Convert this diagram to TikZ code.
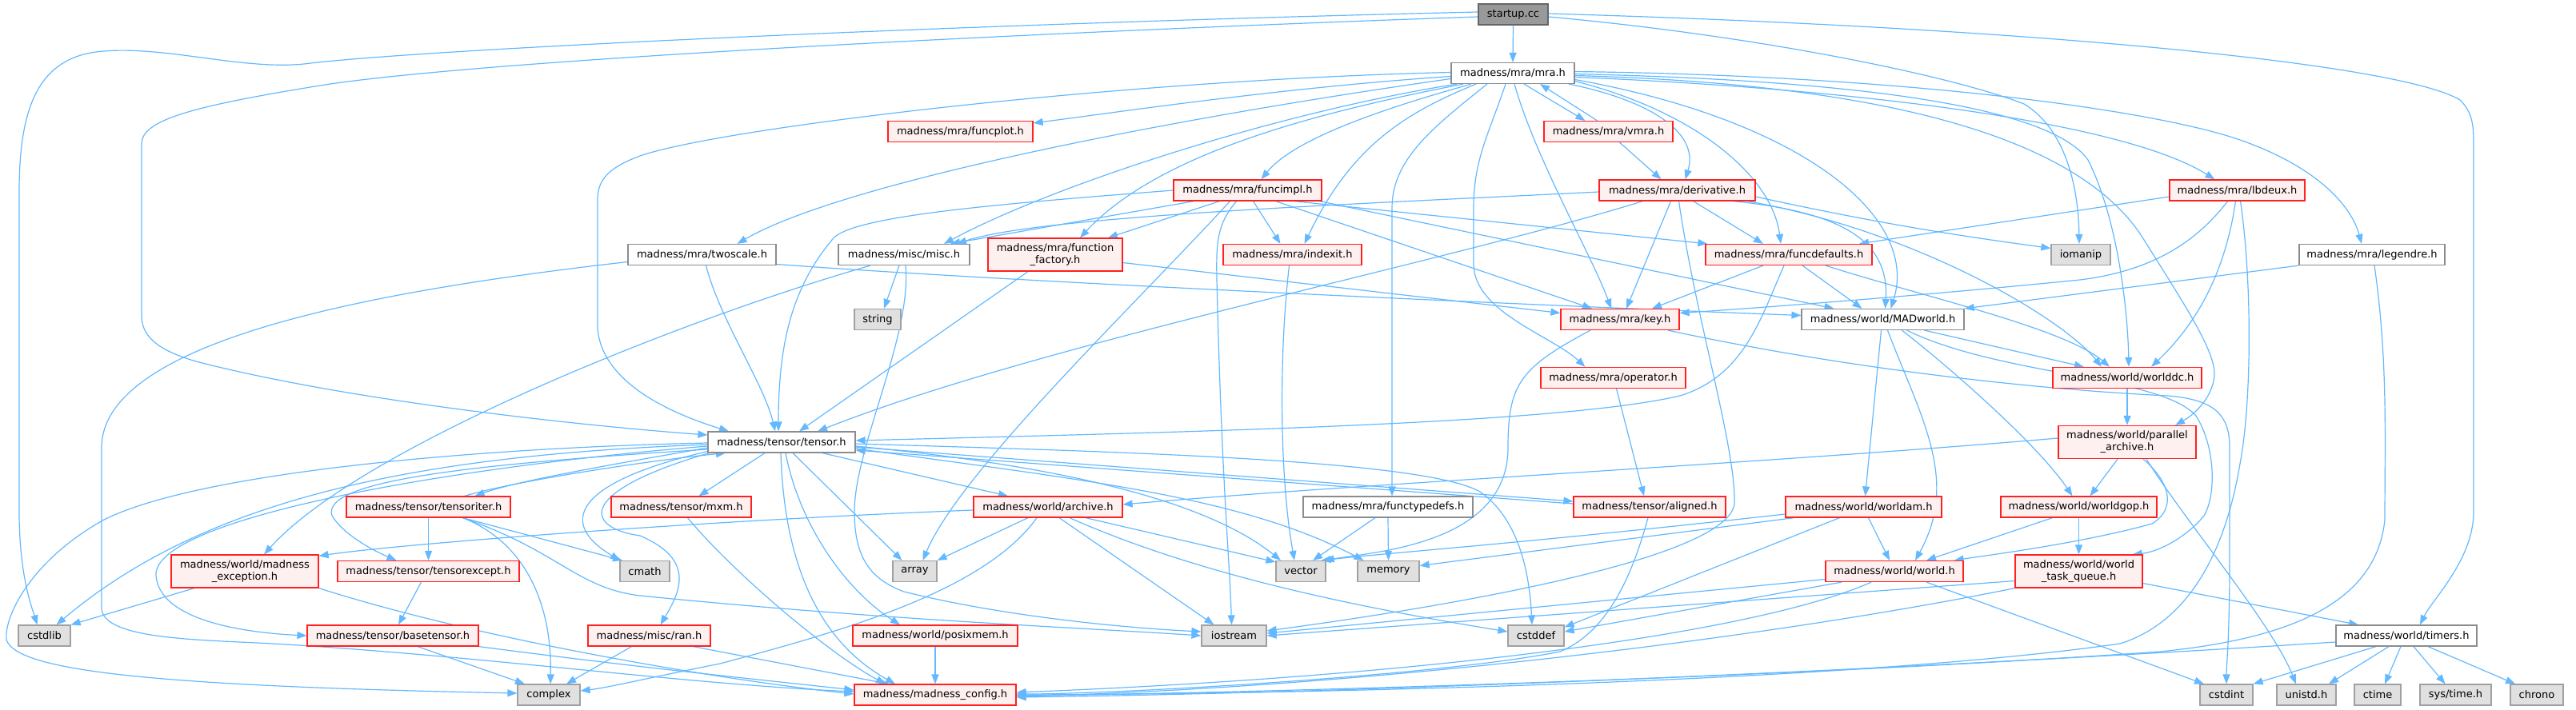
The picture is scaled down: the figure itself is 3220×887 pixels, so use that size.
\documentclass[tikz,border=0pt]{standalone}
\usepackage{fontspec}
\setmainfont{DejaVu Sans}
\usetikzlibrary{arrows.meta,calc}
\pgfdeclarelayer{bg}
\pgfsetlayers{bg,main}
\definecolor{ecol}{HTML}{63B8FF}
\definecolor{wbord}{HTML}{8C8C8C}
\definecolor{rfill}{HTML}{FFF0F0}
\definecolor{rbord}{HTML}{FF2020}
\definecolor{gfill}{HTML}{E0E0E0}
\definecolor{gbord}{HTML}{A0A0A0}
\definecolor{sfill}{HTML}{999999}
\definecolor{sbord}{HTML}{666666}
\begin{document}
\begin{tikzpicture}[x=1pt,y=-1pt,font=\fontsize{13}{15}\selectfont,
  box/.style={line width=1.2pt,inner sep=0pt,minimum height=26pt,align=center},
  wbox/.style={box,draw=wbord,fill=white},
  rbox/.style={box,draw=rbord,fill=rfill},
  gbox/.style={box,draw=gbord,fill=gfill},
  sbox/.style={box,draw=sbord,fill=sfill},
  lnk/.style={draw=ecol,line width=1.2pt,-{Triangle[length=12pt,width=9pt]}}]
\useasboundingbox (0,0) rectangle (3220,887);
% ---------------- nodes
\node[sbox,minimum width=87] (startup) at (1891.5,18) {startup.cc};
\node[wbox,minimum width=154] (mra) at (1891,91.5) {madness/mra/mra.h};
\node[rbox,minimum width=181] (funcplot) at (1200.5,164.5) {madness/mra/funcplot.h};
\node[rbox,minimum width=161] (vmra) at (2010.5,164.5) {madness/mra/vmra.h};
\node[rbox,minimum width=169] (lbdeux) at (2796.5,238) {madness/mra/lbdeux.h};
\node[rbox,minimum width=185] (funcimpl) at (1559.5,238) {madness/mra/funcimpl.h};
\node[rbox,minimum width=195] (deriv) at (2096.5,238) {madness/mra/derivative.h};
\node[wbox,minimum width=185] (twoscale) at (877.5,318.5) {madness/mra/twoscale.h};
\node[wbox,minimum width=164] (misc) at (1130,318.5) {madness/misc/misc.h};
\node[rbox,minimum width=168,minimum height=41] (ffact) at (1319,318.5) {madness/mra/function\\\_factory.h};
\node[rbox,minimum width=173] (indexit) at (1615.5,318.5) {madness/mra/indexit.h};
\node[rbox,minimum width=208] (fdef) at (2236,318.5) {madness/mra/funcdefaults.h};
\node[gbox,minimum width=74] (iomanip) at (2601,318.5) {iomanip};
\node[wbox,minimum width=182] (legendre) at (2965,318.5) {madness/mra/legendre.h};
\node[gbox,minimum width=58] (string) at (1097,399.5) {string};
\node[rbox,minimum width=148] (key) at (2025,399.5) {madness/mra/key.h};
\node[wbox,minimum width=203] (madw) at (2353.5,399.5) {madness/world/MADworld.h};
\node[rbox,minimum width=181] (operator) at (2016.5,472.5) {madness/mra/operator.h};
\node[rbox,minimum width=186] (wdc) at (2659,472.5) {madness/world/worlddc.h};
\node[wbox,minimum width=184] (tensor) at (977,553) {madness/tensor/tensor.h};
\node[rbox,minimum width=172,minimum height=41] (parch) at (2659,553) {madness/world/parallel\\\_archive.h};
\node[rbox,minimum width=205] (titer) at (535.5,634) {madness/tensor/tensoriter.h};
\node[rbox,minimum width=175] (mxm) at (851.5,634) {madness/tensor/mxm.h};
\node[rbox,minimum width=186] (archive) at (1310,634) {madness/world/archive.h};
\node[wbox,minimum width=212] (ftd) at (1735,634) {madness/mra/functypedefs.h};
\node[rbox,minimum width=190] (aligned) at (2062,634) {madness/tensor/aligned.h};
\node[rbox,minimum width=195] (wam) at (2329.5,634) {madness/world/worldam.h};
\node[rbox,minimum width=195] (wgop) at (2598.5,634) {madness/world/worldgop.h};
\node[rbox,minimum width=184,minimum height=41] (mexc) at (306,714.5) {madness/world/madness\\\_exception.h};
\node[rbox,minimum width=227] (texc) at (535.5,714.5) {madness/tensor/tensorexcept.h};
\node[gbox,minimum width=62] (cmath) at (806,714.5) {cmath};
\node[gbox,minimum width=55] (array) at (1143.5,714.5) {array};
\node[gbox,minimum width=62] (vector) at (1626,714.5) {vector};
\node[gbox,minimum width=77] (memory) at (1735.5,714.5) {memory};
\node[rbox,minimum width=172] (world) at (2368,714.5) {madness/world/world.h};
\node[rbox,minimum width=159,minimum height=41] (tq) at (2598.5,714.5) {madness/world/world\\\_task\_queue.h};
\node[gbox,minimum width=65] (cstdlib) at (55.5,795) {cstdlib};
\node[rbox,minimum width=214] (btensor) at (491,795) {madness/tensor/basetensor.h};
\node[rbox,minimum width=153] (ran) at (811.5,795) {madness/misc/ran.h};
\node[rbox,minimum width=206] (posix) at (1169,795) {madness/world/posixmem.h};
\node[gbox,minimum width=81] (iostream) at (1542.5,795) {iostream};
\node[gbox,minimum width=70] (cstddef) at (1920,795) {cstddef};
\node[wbox,minimum width=176] (timers) at (3008,795) {madness/world/timers.h};
\node[gbox,minimum width=78] (complex) at (686,869) {complex};
\node[rbox,minimum width=202] (config) at (1169,869) {madness/madness\_config.h};
\node[gbox,minimum width=66] (cstdint) at (2783,869) {cstdint};
\node[gbox,minimum width=74] (unistd) at (2883,869) {unistd.h};
\node[gbox,minimum width=58] (ctime) at (2972,869) {ctime};
\node[gbox,minimum width=89] (systime) at (3069.5,869) {sys/time.h};
\node[gbox,minimum width=66] (chrono) at (3171,869) {chrono};
% ---------------- edges
\begin{pgfonlayer}{bg}
% startup.cc
\draw[lnk] (startup.south) -- (mra.north);
\draw[lnk] ($(startup.west)+(0,-3)$) .. controls (1200,30) and (520,62) .. (380,80) .. controls (300,88) and (200,55) .. (120,65) .. controls (45,75) and (24,140) .. (24,240) -- (24,640) .. controls (24,720) and (40,760) .. ([xshift=-9]cstdlib.north);
\draw[lnk] ($(startup.west)+(0,3)$) .. controls (1300,40) and (600,75) .. (400,107) .. controls (240,133) and (177,150) .. (177,180) -- (177,395) .. controls (177,425) and (205,440) .. (245,452) .. controls (450,505) and (760,535) .. ($(tensor.west)+(0,-9)$);
\draw[lnk] ($(startup.east)+(0,3)$) .. controls (2200,45) and (2440,95) .. (2530,130) .. controls (2580,160) and (2598,230) .. ([xshift=-2]iomanip.north);
\draw[lnk] ($(startup.east)+(0,-1)$) .. controls (2550,35) and (3000,80) .. (3075,125) .. controls (3090,140) and (3092,155) .. (3092,180) -- (3092,640) .. controls (3092,700) and (3040,750) .. ([xshift=17]timers.north);
% mra.h
\draw[lnk] ($(mra.west)+(0,4)$) .. controls (1600,110) and (1400,140) .. ($(funcplot.north east)+(0,3)$);
\draw[lnk] ($(mra.west)+(0,7)$) .. controls (1450,150) and (1050,230) .. ([xshift=44]twoscale.north);
\draw[lnk] ([xshift=-70]mra.south) .. controls (1600,140) and (1320,230) .. ([xshift=50]misc.north);
\draw[lnk] ([xshift=-62]mra.south) .. controls (1650,140) and (1450,190) .. ([xshift=31]ffact.north);
\draw[lnk] ([xshift=-52]mra.south) .. controls (1750,130) and (1620,170) .. ([xshift=17]funcimpl.north);
\draw[lnk] ([xshift=-46]mra.south) .. controls (1760,140) and (1690,180) .. ([xshift=15]indexit.north);
\draw[lnk] ($(mra.west)+(0,-1)$) .. controls (1400,100) and (900,160) .. (800,195) .. controls (760,210) and (747,225) .. (747,250) -- (747,410) .. controls (750,460) and (800,505) .. ([xshift=-66]tensor.north);
\draw[lnk] ([xshift=2]mra.south) .. controls (1920,200) and (1990,320) .. ([xshift=-11]key.north);
\draw[lnk] ([xshift=14]mra.south) -- ([xshift=-29]vmra.north);
\draw[lnk] ([xshift=-14]vmra.north) -- ([xshift=34]mra.south);
\draw[lnk] ([xshift=70]mra.south) .. controls (2060,125) and (2125,165) .. ([xshift=10]deriv.north);
\draw[lnk] ([xshift=14]vmra.south) -- ([xshift=-20]deriv.north);
\draw[lnk] ($(mra.east)+(0,10)$) .. controls (2120,140) and (2215,220) .. ([xshift=-10]fdef.north);
\draw[lnk] ($(mra.east)+(0,8)$) .. controls (2250,150) and (2400,270) .. ([xshift=10]madw.north);
\draw[lnk] ($(mra.east)+(0,1)$) .. controls (2300,100) and (2560,130) .. (2610,200) .. controls (2650,280) and (2660,400) .. ([xshift=2]wdc.north);
\draw[lnk] ($(mra.east)+(0,3)$) .. controls (2350,105) and (2600,170) .. (2680,300) .. controls (2730,380) and (2770,440) .. (2768,470) .. controls (2765,500) and (2740,520) .. ([xshift=60]parch.north);
\draw[lnk] ($(mra.east)+(0,5)$) .. controls (2300,110) and (2650,150) .. ([xshift=-28]lbdeux.north);
\draw[lnk] ($(mra.east)+(0,-2)$) .. controls (2400,95) and (2700,140) .. (2800,175) .. controls (2900,210) and (2940,260) .. ([xshift=-13]legendre.north);
\draw[lnk] ([xshift=-32]mra.south) .. controls (1790,160) and (1740,200) .. (1740,260) -- ([xshift=5]ftd.north);
\draw[lnk] ([xshift=-9]mra.south) .. controls (1860,170) and (1842,200) .. (1842,260) -- (1842,330) .. controls (1842,390) and (1940,420) .. ([xshift=-35]operator.north);
% funcimpl.h
\draw[lnk] ([xshift=-67]funcimpl.south) -- ([xshift=58]misc.north);
\draw[lnk] ([xshift=-35]funcimpl.south) -- ([xshift=66]ffact.north);
\draw[lnk] ([xshift=7]funcimpl.south) -- ([xshift=-15]indexit.north);
\draw[lnk] (funcimpl.west) .. controls (1250,255) and (1060,270) .. (1040,300) .. controls (990,360) and (973,430) .. ([xshift=-4]tensor.north);
\draw[lnk] ([xshift=35]funcimpl.south) -- ([xshift=-35]key.north);
\draw[lnk] ([xshift=58]funcimpl.south) -- ([xshift=3]fdef.north west);
\draw[lnk] ([xshift=90]funcimpl.south) -- ([xshift=-61]madw.north);
\draw[lnk] ([xshift=-14]funcimpl.south) .. controls (1522,280) and (1520,300) .. (1521,350) .. controls (1527,600) and (1537,700) .. ([xshift=-3]iostream.north);
\draw[lnk] ([xshift=-22]funcimpl.south) .. controls (1420,380) and (1200,590) .. ([xshift=10]array.north);
% derivative.h
\draw[lnk] ($(deriv.west)+(0,2)$) .. controls (1700,255) and (1300,270) .. ([xshift=66]misc.north);
\draw[lnk] ([xshift=-43]deriv.south) .. controls (1800,330) and (1300,430) .. ([xshift=45]tensor.north);
\draw[lnk] ([xshift=-8]deriv.south) -- ([xshift=8]key.north);
\draw[lnk] ([xshift=20]deriv.south) -- ([xshift=-32]fdef.north);
\draw[lnk] ([xshift=2]deriv.south) .. controls (2120,400) and (2170,560) .. (2168,630) .. controls (2160,700) and (1800,760) .. ($(iostream.east)+(0,-6)$);
\draw[lnk] ([xshift=70]deriv.south) .. controls (2300,265) and (2362,300) .. ([xshift=3]madw.north);
\draw[lnk] ([xshift=88]deriv.south) .. controls (2400,290) and (2580,400) .. ([xshift=-32]wdc.north);
\draw[lnk] ($(deriv.east)+(0,8)$) .. controls (2350,280) and (2450,295) .. ($(iomanip.west)+(0,-8)$);
% funcdefaults.h
\draw[lnk] ([xshift=-32]fdef.south) -- ([xshift=40]key.north);
\draw[lnk] ([xshift=17]fdef.south) -- ([xshift=-26]madw.north);
\draw[lnk] ([xshift=46]fdef.south) .. controls (2400,370) and (2580,410) .. ([xshift=-22]wdc.north);
\draw[lnk] ([xshift=-6]fdef.south) .. controls (2200,400) and (2180,470) .. (2100,495) .. controls (1950,530) and (1500,540) .. ($(tensor.east)+(0,-2)$);
% function_factory.h
\draw[lnk] ([xshift=-34]ffact.south) -- ([xshift=22]tensor.north);
\draw[lnk] ($(ffact.east)+(0,10)$) -- ($(key.west)+(0,-8)$);
% misc.h
\draw[lnk] ([xshift=-6]misc.south) -- ([xshift=8]string.north);
\draw[lnk] ([xshift=-42]misc.south) .. controls (850,400) and (450,560) .. ([xshift=24]mexc.north);
\draw[lnk] ([xshift=2]misc.south) .. controls (1140,420) and (1068,560) .. (1068,640) .. controls (1068,700) and (1090,725) .. (1130,740) .. controls (1250,770) and (1400,785) .. ($(iostream.west)+(0,-5)$);
% twoscale.h
\draw[lnk] ([xshift=5]twoscale.south) .. controls (900,400) and (955,480) .. ([xshift=-8]tensor.north);
\draw[lnk] ($(twoscale.east)+(0,12)$) .. controls (1300,355) and (2000,385) .. ($(madw.west)+(0,-5)$);
\draw[lnk] ($(twoscale.west)+(0,9)$) .. controls (500,360) and (127,420) .. (127,560) -- (127,760) .. controls (127,800) and (250,800) .. (340,805) .. controls (600,820) and (850,855) .. ($(config.west)+(0,-4)$);
% indexit.h
\draw[lnk] ([xshift=-4]indexit.south) .. controls (1598,450) and (1600,600) .. ([xshift=-8]vector.north);
% lbdeux.h
\draw[lnk] ($(lbdeux.west)+(0,8)$) -- ([xshift=88]fdef.north);
\draw[lnk] ([xshift=-12]lbdeux.south) .. controls (2740,310) and (2680,340) .. (2600,350) .. controls (2400,370) and (2200,385) .. ($(key.east)+(0,-8)$);
\draw[lnk] ([xshift=-2]lbdeux.south) .. controls (2780,350) and (2740,410) .. ([xshift=30]wdc.north);
\draw[lnk] ([xshift=4]lbdeux.south) .. controls (2815,350) and (2815,500) .. (2800,580) .. controls (2780,700) and (2730,780) .. (2650,805) .. controls (2300,855) and (1600,868) .. (config.east);
% legendre.h
\draw[lnk] (legendre.south west) -- (madw.north east);
\draw[lnk] ([xshift=3]legendre.south) .. controls (2985,450) and (2981,550) .. (2981,650) .. controls (2970,760) and (2850,800) .. (2700,815) .. controls (2200,850) and (1500,868) .. ($(config.east)+(0,1)$);
% key.h
\draw[lnk] ([xshift=-37]key.south) .. controls (1900,460) and (1885,480) .. (1885,560) .. controls (1885,680) and (1720,690) .. ([xshift=-2]vector.north east);
\draw[lnk] ([xshift=60]key.south) .. controls (2350,470) and (2600,490) .. (2710,495) .. controls (2770,500) and (2787,520) .. (2787,560) -- (2787,700) .. controls (2787,800) and (2783,830) .. (cstdint.north);
% MADworld.h
\draw[lnk] ([xshift=52]madw.south) -- ([xshift=-54]wdc.north);
\draw[lnk] ([xshift=-2]madw.south) -- ([xshift=2]wam.north);
\draw[lnk] ([xshift=6]madw.south) .. controls (2400,520) and (2450,600) .. ([xshift=26]world.north);
\draw[lnk] ([xshift=24]madw.south) .. controls (2450,470) and (2550,560) .. ([xshift=-8]wgop.north);
\draw[lnk] ([xshift=30]madw.south) .. controls (2500,470) and (2700,470) .. (2745,520) .. controls (2770,560) and (2770,620) .. (2755,645) .. controls (2735,670) and (2700,690) .. ([xshift=67]tq.north);
% worlddc.h
\draw[lnk] (wdc.south) -- (parch.north);
% parallel_archive.h
\draw[lnk] ($(parch.west)+(0,-5)$) .. controls (2200,580) and (1700,605) .. ($(archive.east)+(0,-3)$);
\draw[lnk] ([xshift=-12]parch.south) -- ([xshift=14]wgop.north);
\draw[lnk] ([xshift=20]parch.south) .. controls (2720,610) and (2715,640) .. (2690,655) .. controls (2600,680) and (2480,695) .. ([xshift=-12]world.north east);
\draw[lnk] ([xshift=24]parch.south) .. controls (2730,650) and (2840,780) .. ([xshift=-13]unistd.north);
% world.h
\draw[lnk] ($(world.west)+(0,10)$) -- ($(iostream.east)+(0,-3)$);
\draw[lnk] ([xshift=-66]world.south) -- ($(cstddef.east)+(0,-5)$);
\draw[lnk] ([xshift=-29]world.south) .. controls (2200,790) and (1800,845) .. ($(config.east)+(0,-3)$);
\draw[lnk] ([xshift=40]world.south) -- ([xshift=-28]cstdint.north);
% world_task_queue.h
\draw[lnk] ($(tq.west)+(0,12)$) -- (iostream.east);
\draw[lnk] (tq.south west) .. controls (2200,800) and (1700,860) .. ($(config.east)+(0,2)$);
\draw[lnk] ($(tq.east)+(0,15)$) -- ([xshift=-60]timers.north);
% worldam.h
\draw[lnk] ($(wam.west)+(0,9)$) .. controls (1900,680) and (1750,690) .. ([xshift=-6]vector.north east);
\draw[lnk] ([xshift=-87]wam.south) -- ($(memory.east)+(0,-7)$);
\draw[lnk] ([xshift=-30]wam.south) -- ($(cstddef.north east)+(0,3)$);
\draw[lnk] ([xshift=6]wam.south) -- ([xshift=-6]world.north);
% worldgop.h
\draw[lnk] ([xshift=-33]wgop.south) -- ([xshift=40]world.north);
\draw[lnk] (wgop.south) -- (tq.north);
% timers.h
\draw[lnk] ([xshift=-38]timers.south) -- (cstdint.north east);
\draw[lnk] ([xshift=-22]timers.south) -- ([xshift=28]unistd.north);
\draw[lnk] ([xshift=-7]timers.south) -- ([xshift=9]ctime.north);
\draw[lnk] ([xshift=9]timers.south) -- ([xshift=-13]systime.north);
\draw[lnk] ([xshift=27]timers.south) -- ([xshift=-27]chrono.north);
\draw[lnk] ($(timers.west)+(0,8)$) .. controls (2500,830) and (1800,865) .. ($(config.east)+(0,3)$);
% operator.h, aligned.h
\draw[lnk] ([xshift=4]operator.south) -- ([xshift=-7]aligned.north);
\draw[lnk] ([xshift=-2]aligned.south) .. controls (2040,720) and (2010,790) .. (1950,815) .. controls (1800,845) and (1400,868) .. ($(config.east)+(0,-1)$);
\draw[lnk] ($(tensor.east)+(0,6)$) -- ($(aligned.west)+(0,-7)$);
\draw[lnk] ($(aligned.west)+(0,-4)$) -- ($(tensor.east)+(0,10)$);
% tensor.h
\draw[lnk] ($(tensor.west)+(0,7)$) .. controls (800,575) and (650,600) .. ([xshift=58]titer.north);
\draw[lnk] ([xshift=45]titer.north) .. controls (650,600) and (820,575) .. ([xshift=-70]tensor.south);
\draw[lnk] ([xshift=-21]tensor.south) -- ([xshift=22]mxm.north);
\draw[lnk] ([xshift=51]tensor.south) -- ([xshift=-50]archive.north);
\draw[lnk] ([xshift=14]tensor.south) -- ([xshift=-16]array.north);
\draw[lnk] ([xshift=-1]tensor.south) .. controls (980,700) and (1020,800) .. ([xshift=-50]config.north);
\draw[lnk] ([xshift=5]tensor.south) .. controls (1000,660) and (1060,740) .. ([xshift=-44]posix.north);
\draw[lnk] ($(tensor.east)+(0,5)$) .. controls (1300,580) and (1500,620) .. ([xshift=-25]vector.north);
\draw[lnk] ($(tensor.east)+(0,8)$) .. controls (1350,600) and (1550,620) .. ([xshift=8]memory.north west);
\draw[lnk] ($(tensor.east)+(0,2)$) .. controls (1400,565) and (1780,575) .. (1850,615) .. controls (1900,650) and (1912,720) .. ([xshift=-5]cstddef.north);
\draw[lnk] ($(tensor.west)+(0,1)$) .. controls (600,560) and (250,590) .. (130,650) .. controls (40,700) and (5,770) .. (8,800) .. controls (20,840) and (200,858) .. ($(complex.west)+(0,-2)$);
\draw[lnk] ($(tensor.west)+(0,3)$) .. controls (500,570) and (250,630) .. ([xshift=15]cstdlib.north);
\draw[lnk] ($(tensor.west)+(0,5)$) .. controls (550,585) and (190,650) .. (195,720) .. controls (200,780) and (320,792) .. (btensor.west);
\draw[lnk] ($(tensor.west)+(0,9)$) .. controls (600,580) and (400,600) .. (415,645) .. controls (430,670) and (470,690) .. ([xshift=-40]texc.north);
\draw[lnk] ($(tensor.south west)+(0,-2)$) .. controls (730,600) and (690,650) .. ([xshift=-31]cmath.north);
\draw[lnk] ($(tensor.south west)+(2,0)$) .. controls (720,615) and (730,660) .. (800,670) .. controls (870,700) and (850,740) .. ([xshift=14]ran.north);
% tensoriter.h
\draw[lnk] (titer.south) -- (texc.north);
\draw[lnk] ([xshift=43]titer.south) -- ([xshift=-28]cmath.north);
\draw[lnk] ([xshift=43]titer.south) .. controls (660,680) and (690,760) .. ([xshift=2]complex.north);
\draw[lnk] ([xshift=43]titer.south) .. controls (700,690) and (720,735) .. (800,745) .. controls (1100,775) and (1350,785) .. (iostream.west);
% madness_exception.h
\draw[lnk] ([xshift=-63]mexc.south) -- (cstdlib.north east);
\draw[lnk] (mexc.south east) .. controls (600,800) and (900,850) .. ($(config.west)+(0,-1)$);
% tensorexcept.h, basetensor.h, ran.h
\draw[lnk] ([xshift=-9]texc.south) -- ([xshift=7]btensor.north);
\draw[lnk] ([xshift=31]btensor.south) -- ([xshift=-30]complex.north);
\draw[lnk] (btensor.south east) .. controls (800,835) and (950,850) .. ($(config.west)+(0,-6)$);
\draw[lnk] ([xshift=-22]ran.south) -- ([xshift=22]complex.north);
\draw[lnk] ([xshift=55]ran.south) -- ([xshift=-58]config.north);
% archive.h
\draw[lnk] ($(archive.west)+(0,4)$) .. controls (900,650) and (500,680) .. ($(mexc.north east)+(0,2)$);
\draw[lnk] ([xshift=-25]archive.south) -- (array.north east);
\draw[lnk] ([xshift=-14]archive.south) .. controls (1230,740) and (1050,790) .. (900,830) .. controls (800,850) and (760,860) .. ($(complex.east)+(0,-5)$);
\draw[lnk] ([xshift=14]archive.south) -- ([xshift=-25]iostream.north);
\draw[lnk] ([xshift=27]archive.south) .. controls (1500,720) and (1700,760) .. ($(cstddef.west)+(0,-5)$);
\draw[lnk] ([xshift=47]archive.south) -- ($(vector.north west)+(0,2)$);
% misc others
\draw[lnk] (posix.south) -- (config.north);
\draw[lnk] ([xshift=8]mxm.south) .. controls (920,720) and (1040,820) .. ([xshift=-62]config.north);
\draw[lnk] ([xshift=-16]ftd.south) -- ([xshift=15]vector.north);
\draw[lnk] (ftd.south) -- (memory.north);
\end{pgfonlayer}
\end{tikzpicture}
\end{document}
